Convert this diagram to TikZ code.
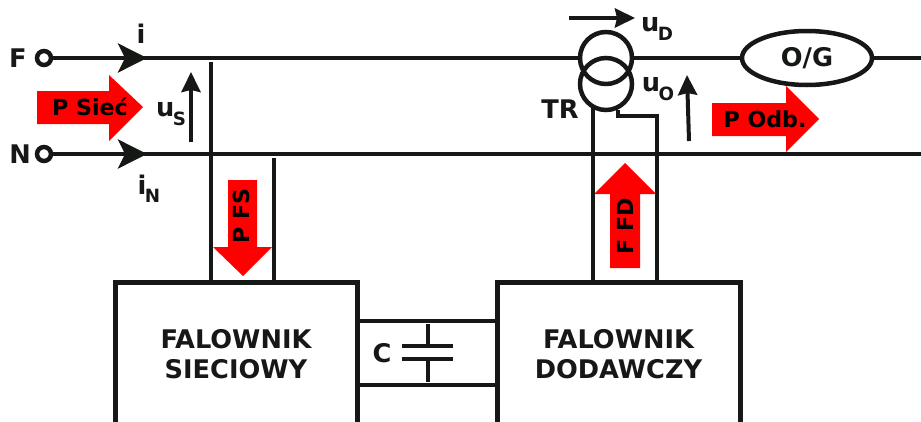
\documentclass[tikz,border=0pt]{standalone}
\usepackage{fontspec}
\setmainfont{DejaVu Sans}
\usepackage{xcolor}
\usetikzlibrary{calc, shapes, positioning, arrows.meta}
\definecolor{inkblack}{HTML}{161816}
\newcommand{\lowidx}[1]{\kern-0.06em\raisebox{-0.6ex}{\fontsize{5.2pt}{5.2pt}\selectfont #1}}
\tikzset{
    wire/.style={line width=0.045cm, color=inkblack},
    lab/.style={font=\bfseries\fontsize{7.3pt}{8.5pt}\selectfont, color=inkblack, inner sep=0pt, align=center},
    powerlab/.style={font=\bfseries\fontsize{6.3pt}{8pt}\selectfont, color=black, inner sep=0pt},
    inverter/.style={draw=inkblack, line width=0.05cm, minimum height=1.44cm, outer sep=0pt, inner sep=0pt},
    terminal/.style={circle, draw=inkblack, line width=0.045cm, minimum size=0.14cm, inner sep=0pt, outer sep=0pt},
    coil/.style={circle, draw=inkblack, line width=0.045cm, minimum size=0.52cm, inner sep=0pt, outer sep=0pt},
    linehead/.style={-{Stealth[length=0.29cm, width=0.29cm, inset=0.07cm]}},
    volthead/.style={-{Stealth[length=0.2cm, width=0.19cm, inset=0.02cm]}, line width=0.04cm, color=inkblack},
}
\begin{document}
\begin{tikzpicture}
    \useasboundingbox (0,0) rectangle (9.21,4.21);

    % red power arrows
    \fill[red] (0.37,3.30) -- (1.09,3.30) -- (1.09,3.46) -- (1.43,3.14) -- (1.09,2.80) -- (1.09,2.97) -- (0.37,2.97) -- cycle;
    \fill[red] (7.12,3.18) -- (7.86,3.18) -- (7.86,3.35) -- (8.19,3.02) -- (7.86,2.69) -- (7.86,2.85) -- (7.12,2.85) -- cycle;
    \fill[red] (2.28,2.41) -- (2.57,2.41) -- (2.57,1.74) -- (2.72,1.74) -- (2.43,1.45) -- (2.13,1.74) -- (2.28,1.74) -- cycle;
    \fill[red] (6.10,1.53) -- (6.40,1.53) -- (6.40,2.27) -- (6.56,2.27) -- (6.25,2.58) -- (5.94,2.27) -- (6.10,2.27) -- cycle;

    % inverters
    \node[inverter, minimum width=2.42cm, lab] (fs) at (2.36,0.67) {FALOWNIK\\SIECIOWY};
    \node[inverter, minimum width=2.43cm, lab] (fd) at (6.185,0.67) {FALOWNIK\\DODAWCZY};

    % terminals and transformer
    \node[terminal] (f) at (0.44,3.63) {};
    \node[terminal] (n) at (0.44,2.67) {};
    \node[coil] (prim) at (6.06,3.63) {};
    \node[coil] (sec) at (6.06,3.37) {};
    \node[ellipse, draw=inkblack, line width=0.045cm, minimum width=1.30cm, minimum height=0.54cm, inner sep=0pt, outer sep=0pt, lab] (og) at (8.07,3.63) {O/G};

    \coordinate (fend) at (9.21,3.63);
    \coordinate (nend) at (9.21,2.67);
    \coordinate (fhead) at (1.47,3.63);
    \coordinate (nhead) at (1.47,2.67);

    % main lines
    \draw[wire] (f) -- (prim);
    \draw[wire] (prim) -- (og);
    \draw[wire] (og) -- (fend);
    \draw[wire] (n) -- (nend);
    \draw[wire, linehead, fill=inkblack] (1.17,3.63) -- (fhead);
    \draw[wire, linehead, fill=inkblack] (1.17,2.67) -- (nhead);

    % branches down to the inverters
    \coordinate (fsl) at (2.11,3.59);
    \coordinate (fsr) at (2.74,2.63);
    \coordinate (fdl) at (5.93,3.14);
    \coordinate (fdr) at (6.18,3.11);
    \draw[wire] (fsl) -- (fsl |- fs.north);
    \draw[wire] (fsr) -- (fsr |- fs.north);
    \draw[wire] (fdl) -- (fdl |- fd.north);
    \draw[wire] (fdr) -- (6.18,3.05) -- (6.57,3.05) -- (6.57,1.39);

    % capacitor
    \coordinate (cupl) at (3.57,1.00);
    \coordinate (cupr) at (4.97,1.00);
    \coordinate (cdnl) at (3.57,0.36);
    \coordinate (cdnr) at (4.97,0.36);
    \draw[wire, line width=0.04cm] (cupl) -- (cupr);
    \draw[wire, line width=0.04cm] (cdnl) -- (cdnr);
    \draw[wire] (4.28,0.97) -- (4.28,0.75);
    \draw[wire] (4.28,0.62) -- (4.28,0.39);
    \draw[wire] (4.02,0.75) -- (4.53,0.75);
    \draw[wire] (4.02,0.62) -- (4.53,0.62);
    \node[lab] (c) at (3.82,0.68) {C};

    % voltage arrows
    \draw[volthead] (1.91,2.79) -- (1.91,3.49);
    \draw[volthead] (5.69,4.03) -- (6.35,4.03);
    \draw[volthead] (6.89,2.80) -- (6.87,3.46);

    % labels
    \node[lab] (lf) at (0.18,3.63) {F};
    \node[lab] (ln) at (0.20,2.67) {N};
    \node[lab] (li) at (1.41,3.87) {i};
    \node[lab] (lin) at (1.49,2.32) {i\lowidx{N}};
    \node[lab] (lus) at (1.71,3.07) {u\lowidx{S}};
    \node[lab] (lud) at (6.57,3.92) {u\lowidx{D}};
    \node[lab] (luo) at (6.58,3.32) {u\lowidx{O}};
    \node[lab] (ltr) at (5.60,3.12) {TR};
    \node[powerlab] (psiec) at (0.90,3.14) {P Sieć};
    \node[powerlab] (podb) at (7.65,3.02) {P Odb.};
    \node[powerlab, rotate=90] (pfs) at (2.41,2.05) {P FS};
    \node[powerlab, rotate=90] (ffd) at (6.25,1.95) {F FD};
\end{tikzpicture}
\end{document}
